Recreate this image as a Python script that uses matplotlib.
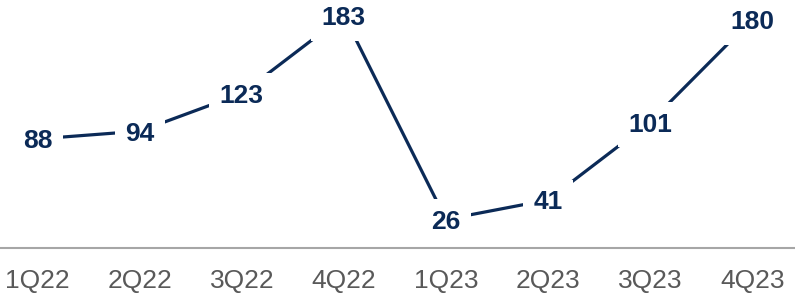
import matplotlib
matplotlib.use("Agg")
import matplotlib.pyplot as plt

quarters = ["1Q22", "2Q22", "3Q22", "4Q22", "1Q23", "2Q23", "3Q23", "4Q23"]
values = [88, 94, 123, 183, 26, 41, 101, 180]

navy = "#0b2a57"
fig = plt.figure(figsize=(7.95, 2.98), dpi=100)
ax = fig.add_axes([0, 50 / 298, 1, 248 / 298])
x = list(range(len(quarters)))
ax.plot(x, values, color=navy, lw=2.3, solid_capstyle="butt", zorder=1)
for xi, v in zip(x, values):
    ax.text(xi, v, str(v), ha="center", va="center_baseline", fontsize=19,
            fontweight="bold", color=navy, family="Liberation Sans",
            bbox=dict(boxstyle="square,pad=0.4", fc="white", ec="none"), zorder=2)

ax.set_xlim(-0.37, 7.42)
ax.set_ylim(4, 195)
for s in ["top", "right", "left"]:
    ax.spines[s].set_visible(False)
ax.spines["bottom"].set_color("#a6a6a6")
ax.spines["bottom"].set_linewidth(1.5)
ax.set_yticks([])
ax.set_xticks(x)
ax.set_xticklabels(quarters, fontsize=19, color="#595959", family="Liberation Sans")
ax.tick_params(axis="x", length=0, pad=15)
fig.savefig("out.png", dpi=100)
